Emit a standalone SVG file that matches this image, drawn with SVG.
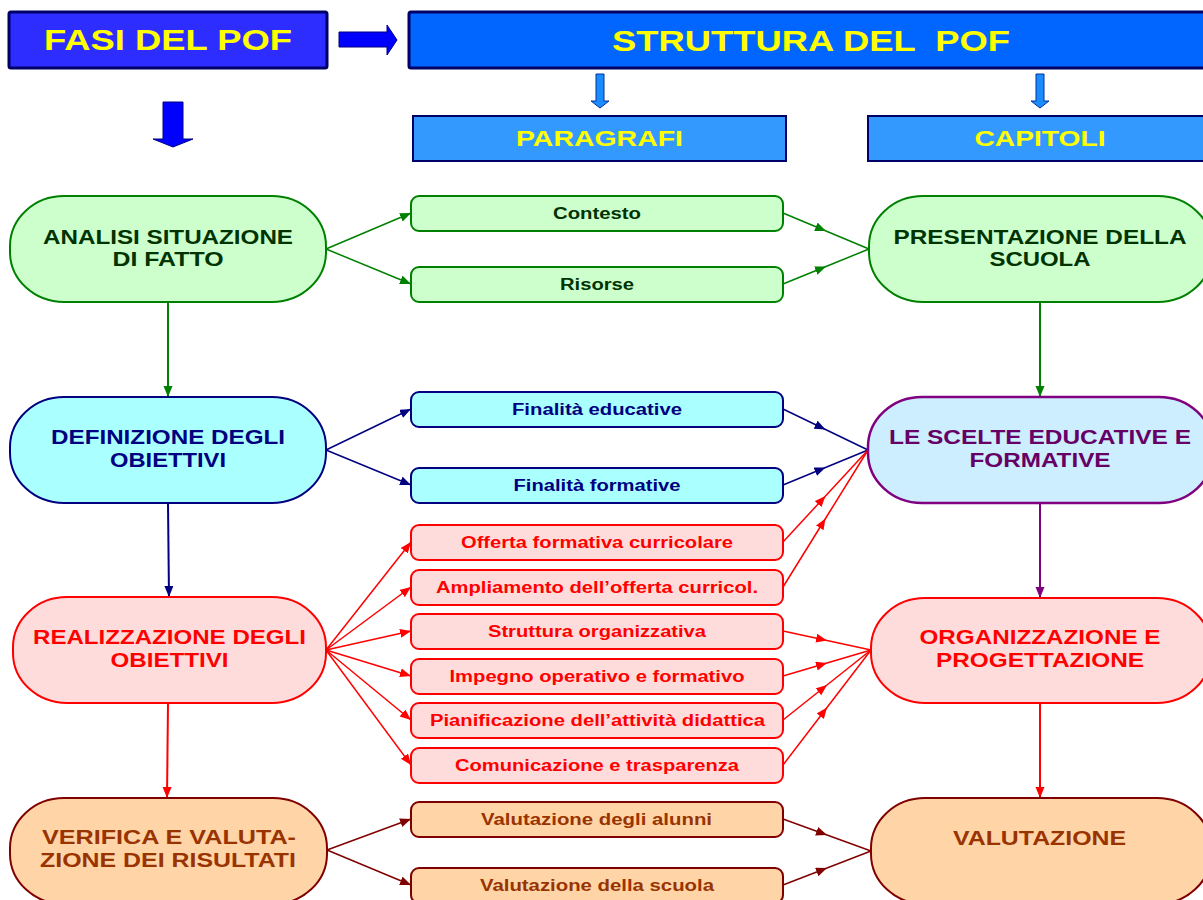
<svg xmlns="http://www.w3.org/2000/svg" width="1203" height="900" viewBox="0 0 1203 900">
<style>
text{font-family:"Liberation Sans",Arial,sans-serif;font-weight:bold;text-anchor:middle}
.hd{fill:#ffff00}
.big{font-size:20px}
.sm{font-size:16px}
.g{fill:#ccffcc;stroke:#008000;stroke-width:2}
.gt{fill:#003300}
.c{fill:#aaffff;stroke:#000080;stroke-width:2}
.ct{fill:#000080}
.p{fill:#cceeff;stroke:#800080;stroke-width:2.5}
.pt{fill:#660066}
.r{fill:#ffdcdc;stroke:#ff0000;stroke-width:2}
.rt{fill:#ff0000}
.o{fill:#ffd5a8;stroke:#800000;stroke-width:2}
.ot{fill:#993300}
.ln{fill:none;stroke-width:1.5}
.v{fill:none;stroke-width:2}
</style>
<defs>
<marker id="ag" markerUnits="userSpaceOnUse" markerWidth="13" markerHeight="11" refX="11" refY="4.5" orient="auto"><path d="M0,0 L11,4.5 L0,9 z" fill="#008000"/></marker>
<marker id="an" markerUnits="userSpaceOnUse" markerWidth="13" markerHeight="11" refX="11" refY="4.5" orient="auto"><path d="M0,0 L11,4.5 L0,9 z" fill="#000080"/></marker>
<marker id="ap" markerUnits="userSpaceOnUse" markerWidth="13" markerHeight="11" refX="11" refY="4.5" orient="auto"><path d="M0,0 L11,4.5 L0,9 z" fill="#800080"/></marker>
<marker id="ar" markerUnits="userSpaceOnUse" markerWidth="13" markerHeight="11" refX="11" refY="4.5" orient="auto"><path d="M0,0 L11,4.5 L0,9 z" fill="#ff0000"/></marker>
<marker id="ab" markerUnits="userSpaceOnUse" markerWidth="13" markerHeight="11" refX="11" refY="4.5" orient="auto"><path d="M0,0 L11,4.5 L0,9 z" fill="#800000"/></marker>
</defs>

<g id="fasi">
<rect x="9" y="12" width="318" height="56" rx="2" fill="#2d2dff" stroke="#000066" stroke-width="3"/>
<text class="hd" x="168" y="50" font-size="29" textLength="248" lengthAdjust="spacingAndGlyphs">FASI DEL POF</text>
</g>
<g id="arrow-right"><polygon points="339,32 387,32 387,25 397,40 387,55 387,47 339,47" fill="#0000ff" stroke="#000080" stroke-width="1"/></g>
<g id="arrow-down"><polygon points="163,102 183,102 183,139 193,139 173,147 153,139 163,139" fill="#0000ff" stroke="#000080" stroke-width="1"/></g>
<g id="struttura">
<rect x="409" y="12" width="800" height="56" rx="2" fill="#0066ff" stroke="#000066" stroke-width="3"/>
<text class="hd" x="811" y="51" font-size="30" textLength="398" lengthAdjust="spacingAndGlyphs" style="white-space:pre">STRUTTURA DEL  POF</text>
</g>
<g id="arrow-par"><polygon points="596,74 604,74 604,101 609,101 600,108 591,101 596,101" fill="#1a8cff" stroke="#003399" stroke-width="1"/></g>
<g id="arrow-cap"><polygon points="1036,74 1044,74 1044,101 1049,101 1040,108 1031,101 1036,101" fill="#1a8cff" stroke="#003399" stroke-width="1"/></g>
<g id="paragrafi">
<rect x="413" y="116" width="373" height="45" fill="#3399ff" stroke="#000066" stroke-width="2"/>
<text class="hd" x="599.5" y="146" font-size="22" textLength="167" lengthAdjust="spacingAndGlyphs">PARAGRAFI</text>
</g>
<g id="capitoli">
<rect x="868" y="116" width="345" height="45" fill="#3399ff" stroke="#000066" stroke-width="2"/>
<text class="hd" x="1040" y="146" font-size="22" textLength="131" lengthAdjust="spacingAndGlyphs">CAPITOLI</text>
</g>

<g id="connectors">
<line class="ln" x1="326" y1="249" x2="411" y2="213" stroke="#008000" marker-end="url(#ag)"/>
<line class="ln" x1="326" y1="249" x2="411" y2="284" stroke="#008000" marker-end="url(#ag)"/>
<path class="ln" d="M783,213 L826,231 L869,249" stroke="#008000" marker-mid="url(#ag)"/>
<path class="ln" d="M783,284 L826,266.5 L869,249" stroke="#008000" marker-mid="url(#ag)"/>
<line class="v" x1="168" y1="302" x2="168" y2="397" stroke="#008000" marker-end="url(#ag)"/>
<line class="v" x1="1040" y1="302" x2="1040" y2="397" stroke="#008000" marker-end="url(#ag)"/>

<line class="ln" x1="326" y1="450" x2="411" y2="409" stroke="#000080" marker-end="url(#an)"/>
<line class="ln" x1="326" y1="450" x2="411" y2="485" stroke="#000080" marker-end="url(#an)"/>
<path class="ln" d="M783,409 L825.5,429.5 L868,450" stroke="#000080" marker-mid="url(#an)"/>
<path class="ln" d="M783,485 L825.5,467.5 L868,450" stroke="#000080" marker-mid="url(#an)"/>
<path class="ln" d="M783,542 L825.5,496 L868,450" stroke="#ff0000" marker-mid="url(#ar)"/>
<path class="ln" d="M783,587 L825.5,518.5 L868,450" stroke="#ff0000" marker-mid="url(#ar)"/>
<line class="v" x1="168" y1="503" x2="169" y2="597" stroke="#000080" marker-end="url(#an)"/>
<line class="v" x1="1040" y1="503" x2="1040" y2="598" stroke="#800080" marker-end="url(#ap)"/>

<line class="ln" x1="326" y1="650" x2="411" y2="542" stroke="#ff0000" marker-end="url(#ar)"/>
<line class="ln" x1="326" y1="650" x2="411" y2="587" stroke="#ff0000" marker-end="url(#ar)"/>
<line class="ln" x1="326" y1="650" x2="411" y2="631" stroke="#ff0000" marker-end="url(#ar)"/>
<line class="ln" x1="326" y1="650" x2="411" y2="676" stroke="#ff0000" marker-end="url(#ar)"/>
<line class="ln" x1="326" y1="650" x2="411" y2="720" stroke="#ff0000" marker-end="url(#ar)"/>
<line class="ln" x1="326" y1="650" x2="411" y2="765" stroke="#ff0000" marker-end="url(#ar)"/>
<path class="ln" d="M783,631 L827,640.5 L871,650" stroke="#ff0000" marker-mid="url(#ar)"/>
<path class="ln" d="M783,676 L827,663 L871,650" stroke="#ff0000" marker-mid="url(#ar)"/>
<path class="ln" d="M783,720 L827,685 L871,650" stroke="#ff0000" marker-mid="url(#ar)"/>
<path class="ln" d="M783,765 L827,707.5 L871,650" stroke="#ff0000" marker-mid="url(#ar)"/>
<line class="v" x1="168" y1="703" x2="167" y2="798" stroke="#ff0000" marker-end="url(#ar)"/>
<line class="v" x1="1040" y1="703" x2="1040" y2="798" stroke="#ff0000" marker-end="url(#ar)"/>

<line class="ln" x1="327" y1="850" x2="411" y2="819" stroke="#800000" marker-end="url(#ab)"/>
<line class="ln" x1="327" y1="850" x2="411" y2="885" stroke="#800000" marker-end="url(#ab)"/>
<path class="ln" d="M783,819 L827,835 L871,851" stroke="#800000" marker-mid="url(#ab)"/>
<path class="ln" d="M783,885 L827,868 L871,851" stroke="#800000" marker-mid="url(#ab)"/>
</g>

<g id="analisi">
<rect class="g" x="10" y="196" width="316" height="106" rx="54" ry="50"/>
<text class="big gt" x="168" y="244" textLength="250" lengthAdjust="spacingAndGlyphs">ANALISI SITUAZIONE</text>
<text class="big gt" x="168" y="266" textLength="111" lengthAdjust="spacingAndGlyphs">DI FATTO</text>
</g>
<g id="contesto">
<rect class="g" x="411" y="196" width="372" height="35" rx="8"/>
<text class="sm gt" x="597" y="219" textLength="88" lengthAdjust="spacingAndGlyphs">Contesto</text>
</g>
<g id="risorse">
<rect class="g" x="411" y="267" width="372" height="35" rx="8"/>
<text class="sm gt" x="597" y="290" textLength="74" lengthAdjust="spacingAndGlyphs">Risorse</text>
</g>
<g id="presentazione">
<rect class="g" x="869" y="196" width="343" height="106" rx="54" ry="50"/>
<text class="big gt" x="1040" y="244" textLength="293" lengthAdjust="spacingAndGlyphs">PRESENTAZIONE DELLA</text>
<text class="big gt" x="1040" y="266" textLength="101" lengthAdjust="spacingAndGlyphs">SCUOLA</text>
</g>

<g id="definizione">
<rect class="c" x="10" y="397" width="316" height="106" rx="54" ry="50"/>
<text class="big ct" x="168" y="444" textLength="234" lengthAdjust="spacingAndGlyphs">DEFINIZIONE DEGLI</text>
<text class="big ct" x="168" y="467" textLength="116" lengthAdjust="spacingAndGlyphs">OBIETTIVI</text>
</g>
<g id="fin-educative">
<rect class="c" x="411" y="392" width="372" height="35" rx="8"/>
<text class="sm ct" x="597" y="415" textLength="170" lengthAdjust="spacingAndGlyphs">Finalità educative</text>
</g>
<g id="fin-formative">
<rect class="c" x="411" y="468" width="372" height="35" rx="8"/>
<text class="sm ct" x="597" y="491" textLength="167" lengthAdjust="spacingAndGlyphs">Finalità formative</text>
</g>
<g id="scelte">
<rect class="p" x="868" y="397" width="345" height="106" rx="54" ry="50"/>
<text class="big pt" x="1040" y="444" textLength="302" lengthAdjust="spacingAndGlyphs">LE SCELTE EDUCATIVE E</text>
<text class="big pt" x="1040" y="467" textLength="141" lengthAdjust="spacingAndGlyphs">FORMATIVE</text>
</g>

<g id="realizzazione">
<rect class="r" x="13" y="597" width="313" height="106" rx="54" ry="50"/>
<text class="big rt" x="169.5" y="644" textLength="273" lengthAdjust="spacingAndGlyphs">REALIZZAZIONE DEGLI</text>
<text class="big rt" x="169.5" y="667" textLength="118" lengthAdjust="spacingAndGlyphs">OBIETTIVI</text>
</g>
<g id="offerta">
<rect class="r" x="411" y="525" width="372" height="35" rx="8"/>
<text class="sm rt" x="597" y="548" textLength="272" lengthAdjust="spacingAndGlyphs">Offerta formativa curricolare</text>
</g>
<g id="ampliamento">
<rect class="r" x="411" y="570" width="372" height="35" rx="8"/>
<text class="sm rt" x="597" y="593" textLength="322" lengthAdjust="spacingAndGlyphs">Ampliamento dell’offerta curricol.</text>
</g>
<g id="struttura-org">
<rect class="r" x="411" y="614" width="372" height="35" rx="8"/>
<text class="sm rt" x="597" y="637" textLength="218" lengthAdjust="spacingAndGlyphs">Struttura organizzativa</text>
</g>
<g id="impegno">
<rect class="r" x="411" y="659" width="372" height="35" rx="8"/>
<text class="sm rt" x="597" y="682" textLength="295" lengthAdjust="spacingAndGlyphs">Impegno operativo e formativo</text>
</g>
<g id="pianificazione">
<rect class="r" x="411" y="703" width="372" height="35" rx="8"/>
<text class="sm rt" x="597.5" y="726" textLength="335" lengthAdjust="spacingAndGlyphs">Pianificazione dell’attività didattica</text>
</g>
<g id="comunicazione">
<rect class="r" x="411" y="748" width="372" height="35" rx="8"/>
<text class="sm rt" x="597" y="771" textLength="284" lengthAdjust="spacingAndGlyphs">Comunicazione e trasparenza</text>
</g>
<g id="organizzazione">
<rect class="r" x="871" y="598" width="340" height="105" rx="54" ry="50"/>
<text class="big rt" x="1040" y="644" textLength="241" lengthAdjust="spacingAndGlyphs">ORGANIZZAZIONE E</text>
<text class="big rt" x="1040" y="667" textLength="208" lengthAdjust="spacingAndGlyphs">PROGETTAZIONE</text>
</g>

<g id="verifica">
<rect class="o" x="10" y="798" width="317" height="106" rx="54" ry="50"/>
<text class="big ot" x="169" y="844" textLength="254" lengthAdjust="spacingAndGlyphs">VERIFICA E VALUTA-</text>
<text class="big ot" x="168" y="867" textLength="256" lengthAdjust="spacingAndGlyphs">ZIONE DEI RISULTATI</text>
</g>
<g id="val-alunni">
<rect class="o" x="411" y="802" width="372" height="35" rx="8"/>
<text class="sm ot" x="596.5" y="825" textLength="231" lengthAdjust="spacingAndGlyphs">Valutazione degli alunni</text>
</g>
<g id="val-scuola">
<rect class="o" x="411" y="868" width="372" height="35" rx="8"/>
<text class="sm ot" x="597" y="891" textLength="234" lengthAdjust="spacingAndGlyphs">Valutazione della scuola</text>
</g>
<g id="valutazione">
<rect class="o" x="871" y="798" width="340" height="106" rx="54" ry="50"/>
<text class="big ot" x="1039.5" y="845" textLength="173" lengthAdjust="spacingAndGlyphs">VALUTAZIONE</text>
</g>
</svg>
